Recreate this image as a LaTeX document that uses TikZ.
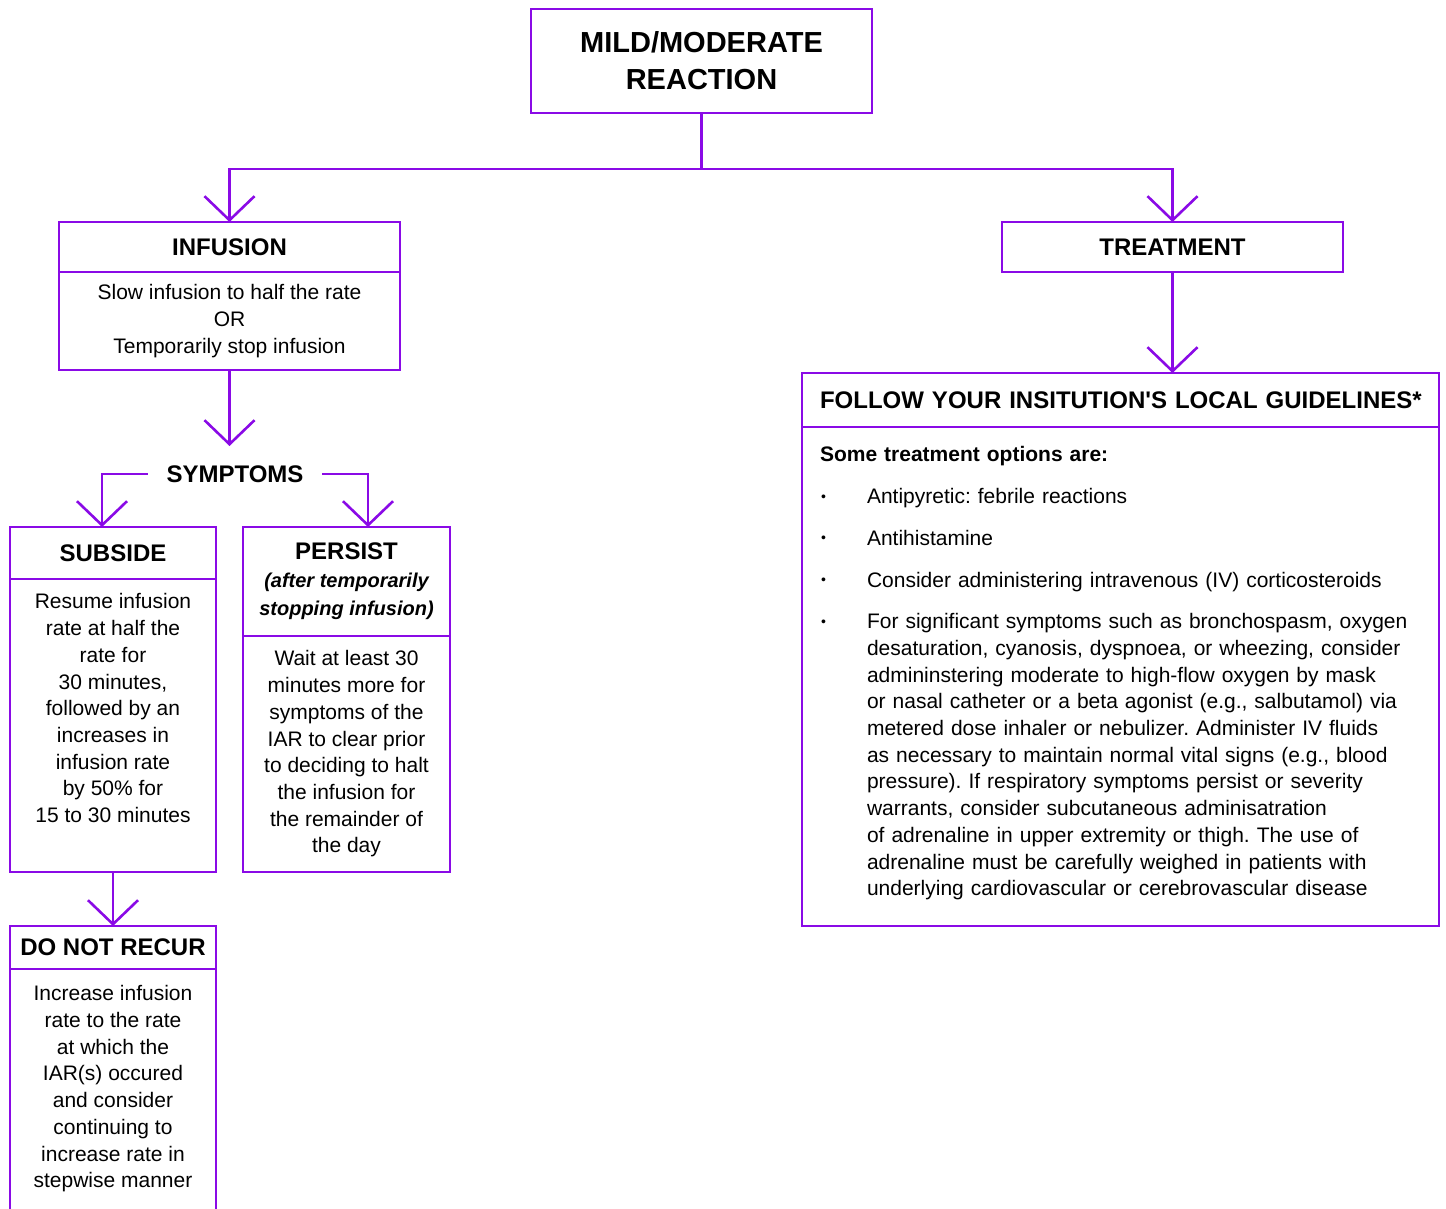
\documentclass[tikz,border=0pt]{standalone}
\usepackage{fontspec}
\setmainfont{Liberation Sans}
\usetikzlibrary{positioning,arrows.meta}
\definecolor{iarpurple}{HTML}{8A0AE6}
\newcommand{\iarbullet}{\raisebox{2.5pt}{\fontsize{14}{14}\selectfont\textbullet}}

\begin{document}
\frenchspacing
\begin{tikzpicture}[
        x=1pt, y=-1pt,
        box/.style={draw=iarpurple, line width=2.6pt, outer sep=0pt, inner sep=0pt, align=center, text=black},
        head/.style={box, font=\fontsize{24}{28}\selectfont\bfseries},
        body/.style={box, font=\fontsize{21}{26.7}\selectfont},
        symlabel/.style={head, draw=none},
        link/.style={draw=iarpurple, line width=2.6pt},
        arrow/.style={link, -{Straight Barb[length=24pt, width=50pt]}}
    ]
    \useasboundingbox (0,0) rectangle (1446,1209);
    \clip (0,0) rectangle (1446,1209);

    % --- Top ---
    \node[box, minimum width=341pt, minimum height=104pt, font=\fontsize{29}{37}\selectfont\bfseries] (top) at (701.5,61) {MILD/MODERATE\\REACTION};
    \coordinate (bus) at (701.5,169);

    % --- Infusion branch ---
    \node[head, minimum width=341pt, minimum height=50pt] (infhead) at (229.5,247) {INFUSION};
    \node[body, minimum width=341pt, minimum height=98pt, below=0pt of infhead] (infbody) {Slow infusion to half the rate\\OR\\Temporarily stop infusion};
    \node[symlabel, minimum height=56pt, inner xsep=19pt] (symp) at (235,474) {SYMPTOMS};

    \node[head, minimum width=206pt, minimum height=52pt] (subhead) at (113,553) {SUBSIDE};
    \node[body, minimum width=206pt, minimum height=293pt, below=0pt of subhead] (subbody) {Resume infusion\\rate at half the\\rate for\\30 minutes,\\followed by an\\increases in\\infusion rate\\by 50\% for\\15 to 30 minutes\\ \strut};

    \node[head, minimum width=207pt, minimum height=109pt] (perhead) at (346.5,581.5) {PERSIST\\{\fontsize{20}{27}\selectfont\itshape (after temporarily}\\{\fontsize{20}{27}\selectfont\itshape stopping infusion)}};
    \node[body, minimum width=207pt, minimum height=236pt, below=0pt of perhead] (perbody) {Wait at least 30\\minutes more for\\symptoms of the\\IAR to clear prior\\to deciding to halt\\the infusion for\\the remainder of\\the day};

    \node[head, minimum width=206pt, minimum height=43pt] (donthead) at (113,947.5) {DO NOT RECUR};
    \node[body, minimum width=206pt, minimum height=270pt, below=0pt of donthead] (dontbody) {Increase infusion\\rate to the rate\\at which the\\IAR(s) occured\\and consider\\continuing to\\increase rate in\\stepwise manner\\ \strut};

    % --- Treatment branch ---
    \node[head, minimum width=341pt, minimum height=50pt] (treathead) at (1172.5,247) {TREATMENT};
    \node[head, text width=601pt, inner xsep=18pt, align=left, minimum height=54pt] (guidehead) at (1120.5,400) {\mbox{FOLLOW YOUR INSITUTION\textquotesingle S LOCAL GUIDELINES*}};
    \node[body, text width=601pt, inner xsep=18pt, align=left, minimum height=499pt, below=0pt of guidehead] (guidebody) {%
        \begin{tabular}{@{\hspace{1pt}}p{46pt}@{}l@{}}
        \multicolumn{2}{@{}l@{}}{\textbf{Some treatment options are:}}\\[15pt]
        \iarbullet & Antipyretic: febrile reactions\\[15pt]
        \iarbullet & Antihistamine\\[15pt]
        \iarbullet & Consider administering intravenous (IV) corticosteroids\\[15pt]
        \iarbullet & For significant symptoms such as bronchospasm, oxygen\\
         & desaturation, cyanosis, dyspnoea, or wheezing, consider\\
         & admininstering moderate to high-flow oxygen by mask\\
         & or nasal catheter or a beta agonist (e.g., salbutamol) via\\
         & metered dose inhaler or nebulizer. Administer IV fluids\\
         & as necessary to maintain normal vital signs (e.g., blood\\
         & pressure). If respiratory symptoms persist or severity\\
         & warrants, consider subcutaneous adminisatration\\
         & of adrenaline in upper extremity or thigh. The use of\\
         & adrenaline must be carefully weighed in patients with\\
         & underlying cardiovascular or cerebrovascular disease\\[6pt]
        \end{tabular}};

    % --- Connections ---
    \draw[link] (top) -- (bus);
    \draw[arrow] (bus) -| (infhead.north);
    \draw[arrow] (bus) -| (treathead.north);
    \draw[arrow] (infbody.south) -- (infbody.south |- symp.north);
    \draw[arrow] (symp.west) -| ([xshift=-11pt]subhead.north);
    \draw[arrow] (symp.east) -| ([xshift=21.5pt]perhead.north);
    \draw[arrow] (subbody) -- (donthead);
    \draw[arrow] (treathead.south) -- (treathead.south |- guidehead.north);

\end{tikzpicture}
\end{document}
